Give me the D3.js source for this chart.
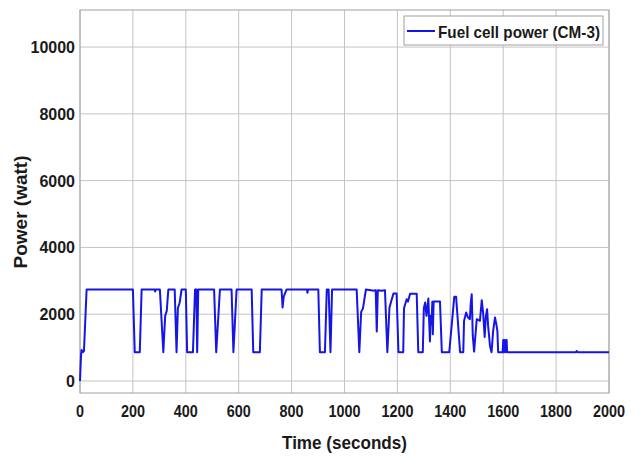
<!DOCTYPE html>
<html>
<head>
<meta charset="utf-8">
<script src="https://cdn.jsdelivr.net/npm/d3@7"></script>
<style>
  body { margin: 0; background: #fff; }
  text { font-family: "Liberation Sans", Arial, sans-serif; font-weight: bold; fill: #1a1a1a; }
</style>
</head>
<body>
<script>
// fuel cell power trace
var time = [0, 4, 6, 10, 15, 25, 200, 207, 226, 233, 282, 284, 286, 302, 315, 322, 328, 334,
    358, 365, 370, 377, 384, 400, 405, 427, 435, 440, 443, 447, 507, 515, 529, 573, 580, 592,
    649, 655, 680, 687, 762, 766, 770, 781, 858, 860, 862, 901, 907, 926, 933, 940, 947, 953,
    1046, 1056, 1063, 1070, 1081, 1100, 1110, 1118, 1122, 1126, 1140, 1153, 1162, 1170, 1185, 1197,
    1204, 1222, 1225, 1235, 1240, 1248, 1273, 1279, 1296, 1300, 1305, 1310, 1317, 1323, 1326, 1329,
    1332, 1334, 1337, 1361, 1368, 1396, 1415, 1422, 1437, 1449, 1452, 1460, 1467, 1474, 1477, 1481,
    1485, 1490, 1500, 1512, 1519, 1524, 1530, 1534, 1539, 1543, 1550, 1556, 1562, 1569, 1574, 1578,
    1581, 1598, 1600, 1602, 1606, 1608, 1613, 1615, 1875, 1878, 1881, 2000];
var power = [0, 800, 930, 860, 900, 2740, 2740, 860, 860, 2740, 2740, 2680, 2740, 2740, 860, 1950, 2100, 2740,
    2740, 860, 2180, 2350, 2740, 2740, 860, 860, 2740, 2740, 860, 2740, 2740, 860, 2740, 2740, 860, 2740,
    2740, 860, 860, 2740, 2740, 2200, 2520, 2740, 2740, 2640, 2740, 2740, 860, 860, 2740, 2740, 860, 2740,
    2740, 860, 2070, 2180, 2740, 2720, 2700, 2720, 1480, 2720, 2700, 2720, 860, 2200, 2620, 2620,
    860, 860, 2180, 2450, 2380, 2610, 2610, 860, 860, 2180, 2350, 1950, 2470, 1180, 1950, 1700,
    2370, 1400, 2380, 2380, 860, 860, 2520, 2520, 860, 860, 1800, 2050, 1900, 1850, 2300, 2600,
    1350, 880, 1850, 1800, 2420, 2050, 1320, 1900, 2150, 1650, 1050, 860, 1500, 1900, 1700, 1500,
    860, 860, 1230, 860, 1230, 860, 1230, 860, 860, 900, 860, 860];

var xTicks = [0, 200, 400, 600, 800, 1000, 1200, 1400, 1600, 1800, 2000];
var yTicks = [0, 2000, 4000, 6000, 8000, 10000];
var legendLabel = "Fuel cell power (CM-3)";

var W = 641, H = 457;
var mLeft = 80, mRight = 609, mTop = 10, mBottom = 393;

var x = d3.scaleLinear().domain([0, 2000]).range([mLeft, mRight]);
var y = d3.scaleLinear().domain([-360, 11110]).range([mBottom, mTop]);

var svg = d3.select("body").append("svg")
    .attr("width", W)
    .attr("height", H);

// grid
svg.append("g").selectAll("line").data(xTicks).enter().append("line")
    .attr("x1", d => x(d)).attr("x2", d => x(d))
    .attr("y1", mTop).attr("y2", mBottom)
    .attr("stroke", "#c4c4c4").attr("stroke-width", 1);
svg.append("g").selectAll("line").data(yTicks).enter().append("line")
    .attr("x1", mLeft).attr("x2", mRight)
    .attr("y1", d => y(d)).attr("y2", d => y(d))
    .attr("stroke", "#c4c4c4").attr("stroke-width", 1);

// box
svg.append("rect")
    .attr("x", mLeft).attr("y", mTop)
    .attr("width", mRight - mLeft).attr("height", mBottom - mTop)
    .attr("fill", "none").attr("stroke", "#a0a0a0").attr("stroke-width", 1);

// tick labels
svg.append("g").selectAll("text").data(xTicks).enter().append("text")
    .attr("x", d => x(d)).attr("y", 417)
    .attr("text-anchor", "middle")
    .attr("font-size", 16)
    .attr("textLength", d => String(d).length * 8)
    .attr("lengthAdjust", "spacingAndGlyphs")
    .text(d => d);
svg.append("g").selectAll("text").data(yTicks).enter().append("text")
    .attr("x", mLeft - 5).attr("y", d => y(d) + 6)
    .attr("text-anchor", "end")
    .attr("font-size", 16)
    .text(d => d);

// axis titles
svg.append("text")
    .attr("x", (mLeft + mRight) / 2).attr("y", 449)
    .attr("text-anchor", "middle")
    .attr("font-size", 18)
    .attr("textLength", 125)
    .attr("lengthAdjust", "spacingAndGlyphs")
    .text("Time (seconds)");
svg.append("text")
    .attr("transform", "translate(27,212) rotate(-90)")
    .attr("text-anchor", "middle")
    .attr("font-size", 19)
    .text("Power (watt)");

// series
var pts = time.map((t, i) => [t, power[i]]);
svg.append("path")
    .datum(pts)
    .attr("fill", "none")
    .attr("stroke", "#1515e6")
    .attr("stroke-width", 2)
    .attr("stroke-linejoin", "round")
    .attr("d", d3.line().x(d => x(d[0])).y(d => y(d[1])));

// legend
var lg = svg.append("g");
lg.append("rect")
    .attr("x", 404).attr("y", 16).attr("width", 199).attr("height", 29)
    .attr("fill", "#fff").attr("stroke", "#a0a0a0");
lg.append("line")
    .attr("x1", 407).attr("x2", 435).attr("y1", 31).attr("y2", 31)
    .attr("stroke", "#1515e6").attr("stroke-width", 2);
lg.append("text")
    .attr("x", 438).attr("y", 38)
    .attr("font-size", 17)
    .attr("textLength", 162)
    .attr("lengthAdjust", "spacingAndGlyphs")
    .text(legendLabel);
</script>
</body>
</html>
